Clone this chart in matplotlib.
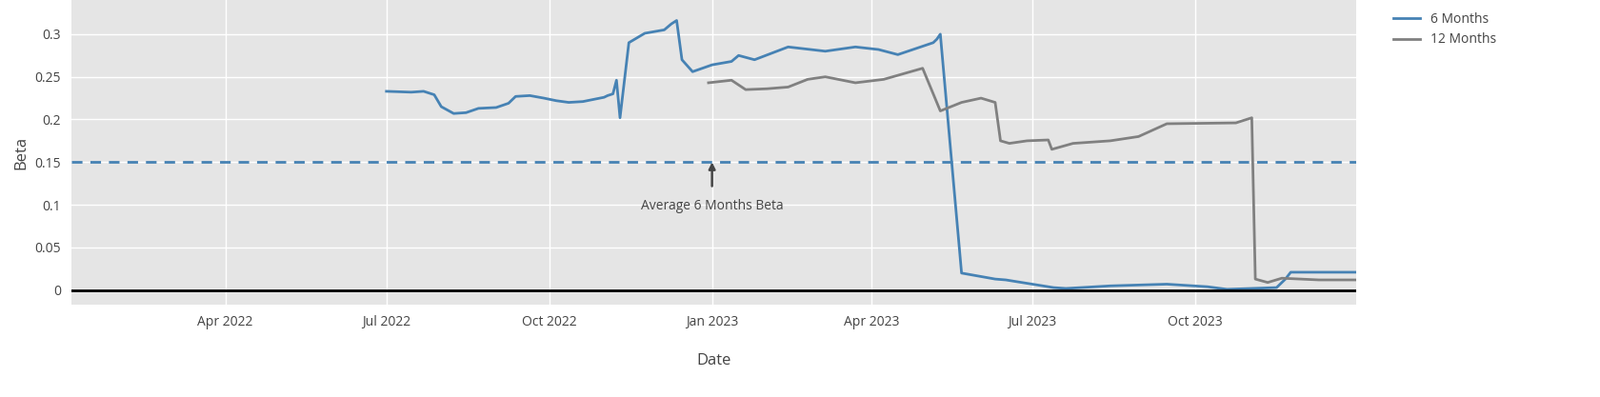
import matplotlib
matplotlib.use("Agg")
import matplotlib.pyplot as plt
import matplotlib.dates as mdates
import pandas as pd

plt.rcParams["font.family"] = "Open Sans"

dates6 = ["2022-07-01","2022-07-15","2022-07-22","2022-07-28","2022-08-01","2022-08-08","2022-08-15","2022-08-22",
          "2022-09-01","2022-09-08","2022-09-12","2022-09-20","2022-09-28","2022-10-05","2022-10-12","2022-10-20",
          "2022-11-01","2022-11-03","2022-11-06","2022-11-08","2022-11-10","2022-11-15","2022-11-24","2022-12-05",
          "2022-12-09","2022-12-12","2022-12-15","2022-12-21","2023-01-01","2023-01-12","2023-01-16","2023-01-25",
          "2023-02-13","2023-03-06","2023-03-23","2023-04-05","2023-04-16","2023-05-06","2023-05-08","2023-05-10",
          "2023-05-22","2023-06-10","2023-06-16","2023-07-13","2023-07-20","2023-08-14","2023-09-15","2023-10-08",
          "2023-10-19","2023-11-16","2023-11-21","2023-11-24","2023-12-31"]
beta6 = [0.233,0.232,0.233,0.229,0.215,0.207,0.208,0.213,
         0.214,0.219,0.227,0.228,0.225,0.222,0.220,0.221,
         0.226,0.228,0.230,0.246,0.202,0.290,0.301,0.305,
         0.312,0.316,0.270,0.256,0.264,0.268,0.275,0.270,0.285,
         0.280,0.285,0.282,0.276,0.290,0.294,0.300,0.020,
         0.013,0.012,0.003,0.002,0.005,0.007,0.004,
         0.001,0.003,0.013,0.021,0.021]

dates12 = ["2022-12-30","2023-01-12","2023-01-20","2023-02-01","2023-02-13","2023-02-24","2023-03-06","2023-03-23",
           "2023-04-08","2023-04-30","2023-05-04","2023-05-10","2023-05-22","2023-06-02","2023-06-10","2023-06-13",
           "2023-06-18","2023-06-28","2023-07-10","2023-07-12","2023-07-24","2023-08-14","2023-08-30","2023-09-15",
           "2023-10-24","2023-11-02","2023-11-04","2023-11-11","2023-11-19","2023-12-10","2023-12-31"]
beta12 = [0.243,0.246,0.235,0.236,0.238,0.247,0.250,0.243,
          0.247,0.260,0.240,0.210,0.220,0.225,0.220,0.175,
          0.172,0.175,0.176,0.165,0.172,0.175,0.180,0.195,
          0.196,0.202,0.013,0.009,0.014,0.012,0.012]

avg6 = 0.15

d6 = pd.to_datetime(dates6)
d12 = pd.to_datetime(dates12)

fig = plt.figure(figsize=(16.8, 4.17), dpi=100)
ax = fig.add_axes([75/1680, 1-320/417, (1424-75)/1680, 320/417])
ax.set_facecolor("#e5e5e5")
ax.plot(d6, beta6, color="#4682B4", lw=2, label="6 Months")
ax.plot(d12, beta12, color="#808080", lw=2, label="12 Months")
ax.axhline(avg6, color="#4682B4", lw=2, ls=(0, (4, 3)))
ax.axhline(0, color="black", lw=2)
ax.annotate("Average 6 Months Beta", xy=(pd.Timestamp("2023-01-01"), avg6),
            xytext=(pd.Timestamp("2023-01-01"), 0.098), ha="center", va="center",
            fontsize=10, color="#444444",
            arrowprops=dict(arrowstyle="-|>", color="#444444", lw=1.8, shrinkA=8, shrinkB=0))
ax.set_xlim(pd.Timestamp("2022-01-04"), pd.Timestamp("2023-12-31"))
ax.set_ylim(-0.017, 0.34)
ax.set_yticks([0, 0.05, 0.1, 0.15, 0.2, 0.25, 0.3])
ax.set_yticklabels(["0", "0.05", "0.1", "0.15", "0.2", "0.25", "0.3"])
ax.xaxis.set_major_locator(mdates.MonthLocator(bymonth=[1, 4, 7, 10]))
ax.xaxis.set_major_formatter(mdates.DateFormatter("%b %Y"))
ax.grid(True, color="white", lw=1)
ax.set_axisbelow(True)
for s in ax.spines.values():
    s.set_visible(False)
ax.tick_params(length=0, labelsize=10, colors="#444444", pad=8)
ax.set_xlabel("Date", fontsize=12, color="#444444", labelpad=18)
ax.set_ylabel("Beta", fontsize=12, color="#444444")
ax.legend(loc="upper left", bbox_to_anchor=(1.02, 1.0), frameon=False, fontsize=10,
          handlelength=2, labelcolor="#444444")
fig.savefig("out.png", dpi=100)
